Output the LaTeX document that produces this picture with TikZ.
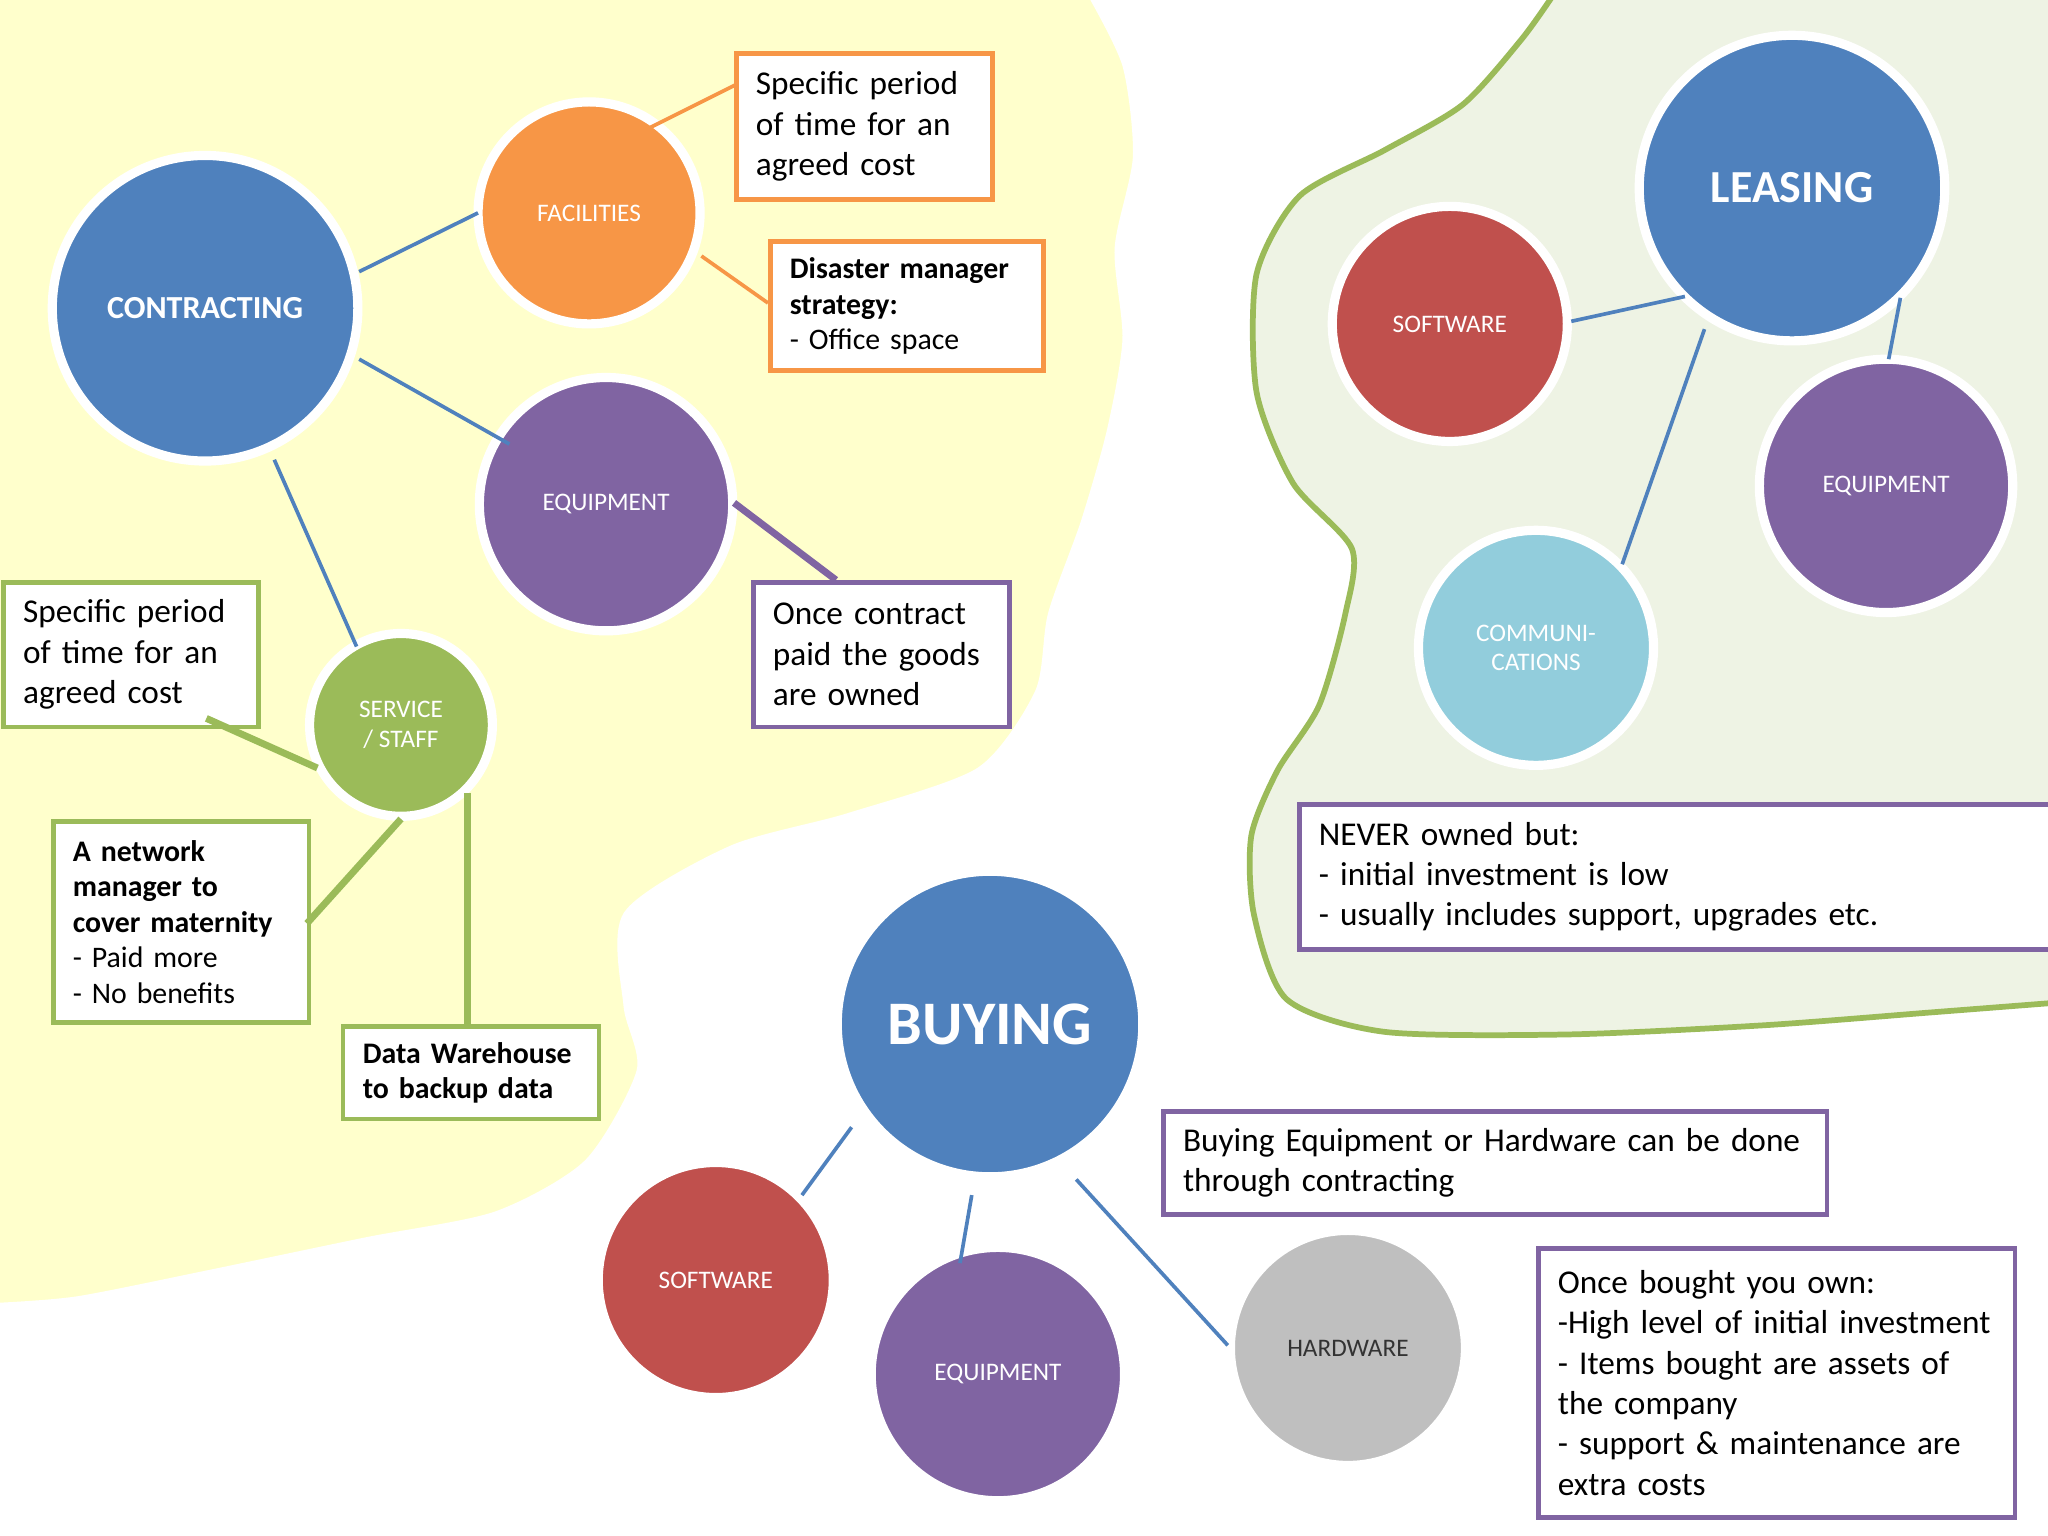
\documentclass[tikz,border=0pt]{standalone}
\usepackage{fontspec}
\setmainfont{Carlito}
\usetikzlibrary{calc}
\definecolor{cblue}{HTML}{4F81BD}
\definecolor{corange}{HTML}{F79646}
\definecolor{cpurple}{HTML}{8064A2}
\definecolor{cred}{HTML}{C0504D}
\definecolor{cgreen}{HTML}{9BBB59}
\definecolor{clblue}{HTML}{92CDDC}
\definecolor{cgray}{HTML}{BFBFBF}
\definecolor{cyel}{HTML}{FFFFCC}
\definecolor{cgbg}{HTML}{EEF3E4}
\begin{document}
\begin{tikzpicture}[x=0.02cm,y=-0.02cm,
 circ/.style={circle,draw=white,line width=4pt,text=white,align=center,font=\fontsize{11}{13}\selectfont,inner sep=0pt},
 box/.style 2 args={draw,line width=2pt,fill=white,align=left,anchor=north west,inner xsep=0.3cm,inner ysep=0pt,
   text width=#1-0.6cm,minimum height=#2,font=\fontsize{14.5}{17.6}\selectfont},
 bl/.style={cblue,line width=1.6pt},
 gl/.style={cgreen,line width=3pt}]
\useasboundingbox (0,0) rectangle (1568,1176);
\fill[white] (0,0) rectangle (1568,1176);
% yellow cloud
\fill[cyel] plot[smooth,tension=0.45] coordinates {(835,-5) (862,50) (870,120) (856,190) (862,260) (850,330) (830,400) (805,470) (795,530) (750,590) (650,625) (560,650) (480,700) (480,770) (490,820) (450,890) (380,930) (280,950) (160,975) (60,995) (0,1000)} -- (-10,1000) -- (-10,-10) -- (835,-10) -- cycle;
\draw[white,line width=3pt] plot[smooth,tension=0.45] coordinates {(835,-5) (862,50) (870,120) (856,190) (862,260) (850,330) (830,400) (805,470) (795,530) (750,590) (650,625) (560,650) (480,700) (480,770) (490,820) (450,890) (380,930) (280,950) (160,975) (60,995) (0,1000)};
% green cloud
\fill[cgbg] plot[smooth,tension=0.45] coordinates {(1190,-5) (1165,30) (1120,80) (1060,115) (995,150) (962,210) (962,300) (990,370) (1035,420) (1030,470) (1010,540) (978,590) (958,640) (960,700) (985,765) (1060,790) (1200,792) (1350,785) (1480,775) (1570,768)} -- (1600,768) -- (1600,-10) -- (1190,-10) -- cycle;
\draw[cgreen,line width=2.5pt] plot[smooth,tension=0.45] coordinates {(1190,-5) (1165,30) (1120,80) (1060,115) (995,150) (962,210) (962,300) (990,370) (1035,420) (1030,470) (1010,540) (978,590) (958,640) (960,700) (985,765) (1060,790) (1200,792) (1350,785) (1480,775) (1570,768)};
% circles
\begin{scope}[every node/.append style={circ}]
\node[fill=cblue,minimum size=4.68cm,font=\bfseries\fontsize{14}{16}\selectfont] (con) at (157,236) {CONTRACTING};
\node[fill=corange,minimum size=3.4cm] (fac) at (451,163) {FACILITIES};
\node[fill=cpurple,minimum size=3.88cm] (eq1) at (464,386) {EQUIPMENT};
\node[fill=cgreen,minimum size=2.8cm] (ser) at (307,555) {SERVICE\\/ STAFF};
\node[fill=cblue,minimum size=4.68cm,font=\bfseries\fontsize{20}{22}\selectfont] (lea) at (1372,144) {LEASING};
\node[fill=cred,minimum size=3.6cm] (sw1) at (1110,248) {SOFTWARE};
\node[fill=cpurple,minimum size=3.88cm] (eq2) at (1444,372) {EQUIPMENT};
\node[fill=clblue,minimum size=3.6cm] (com) at (1176,496) {COMMUNI-\\CATIONS};
\node[fill=cblue,minimum size=4.68cm,font=\bfseries\fontsize{27}{30}\selectfont] (buy) at (758,784) {BUYING};
\node[fill=cred,minimum size=3.6cm] (sw2) at (548,980) {SOFTWARE};
\node[fill=cpurple,minimum size=3.88cm] (eq3) at (764,1052) {EQUIPMENT};
\node[fill=cgray,minimum size=3.6cm,text=black!80] (hw) at (1032,1032) {HARDWARE};
\end{scope}
% boxes
\node[box={3.92cm}{2.24cm},draw=corange] (b1) at (562,39) {Specific period\\of time for an\\agreed cost};
\node[box={4.18cm}{1.98cm},draw=corange,font=\fontsize{13}{15.5}\selectfont] (b2) at (588,183) {\textbf{Disaster manager}\\\textbf{strategy:}\\- Office space};
\node[box={3.92cm}{2.22cm},draw=cpurple] (b3) at (575,444) {Once contract\\paid the goods\\are owned};
\node[box={3.9cm}{2.22cm},draw=cgreen] (b4) at (1,444) {Specific period\\of time for an\\agreed cost};
\node[box={3.92cm}{3.08cm},draw=cgreen,font=\fontsize{13}{15.5}\selectfont] (b5) at (39,627) {\textbf{A network}\\\textbf{manager to}\\\textbf{cover maternity}\\- Paid more\\- No benefits};
\node[box={3.92cm}{1.42cm},draw=cgreen,font=\fontsize{13}{15.5}\selectfont] (b6) at (261,784) {\textbf{Data Warehouse}\\\textbf{to backup data}};
\node[box={11.5cm}{2.22cm},draw=cpurple] (b7) at (993,614) {NEVER owned but:\\- initial investment is low\\- usually includes support, upgrades etc.};
\node[box={10.16cm}{1.58cm},draw=cpurple] (b8) at (889,849) {Buying Equipment or Hardware can be done\\through contracting};
\node[box={7.3cm}{4.12cm},draw=cpurple] (b9) at (1176,954) {Once bought you own:\\-High level of initial investment\\- Items bought are assets of\\the company\\- support \& maintenance are\\extra costs};
% connector endpoints
\coordinate (a1) at (275,208); \coordinate (a2) at (366,163);
\coordinate (a3) at (275,275); \coordinate (a4) at (390,340);
\coordinate (a5) at (210,352); \coordinate (a6) at (273,495);
\coordinate (o1) at (497,98); \coordinate (o2) at (563,65);
\coordinate (o3) at (537,196); \coordinate (o4) at (588,232);
\coordinate (p1) at (562,385); \coordinate (p2) at (640,444);
\coordinate (g1) at (158,550); \coordinate (g2) at (243,588);
\coordinate (g3) at (307,627); \coordinate (g4) at (235,707);
\coordinate (g5) at (358,607); \coordinate (g6) at (358,784);
\coordinate (l1) at (1203,246); \coordinate (l2) at (1290,227);
\coordinate (l3) at (1305,252); \coordinate (l4) at (1242,432);
\coordinate (l5) at (1455,228); \coordinate (l6) at (1446,275);
\coordinate (u1) at (652,863); \coordinate (u2) at (614,915);
\coordinate (u3) at (744,915); \coordinate (u4) at (735,967);
\coordinate (u5) at (824,903); \coordinate (u6) at (940,1030);
\draw[bl] (a1)--(a2); \draw[bl] (a3)--(a4); \draw[bl] (a5)--(a6);
\draw[corange,line width=1.6pt] (o1)--(o2); \draw[corange,line width=1.6pt] (o3)--(o4);
\draw[cpurple,line width=3pt] (p1)--(p2);
\draw[gl] (g1)--(g2); \draw[gl] (g3)--(g4); \draw[gl] (g5)--(g6);
\draw[bl] (l1)--(l2); \draw[bl] (l3)--(l4); \draw[bl] (l5)--(l6);
\draw[bl] (u1)--(u2); \draw[bl] (u3)--(u4); \draw[bl] (u5)--(u6);
\end{tikzpicture}
\end{document}
